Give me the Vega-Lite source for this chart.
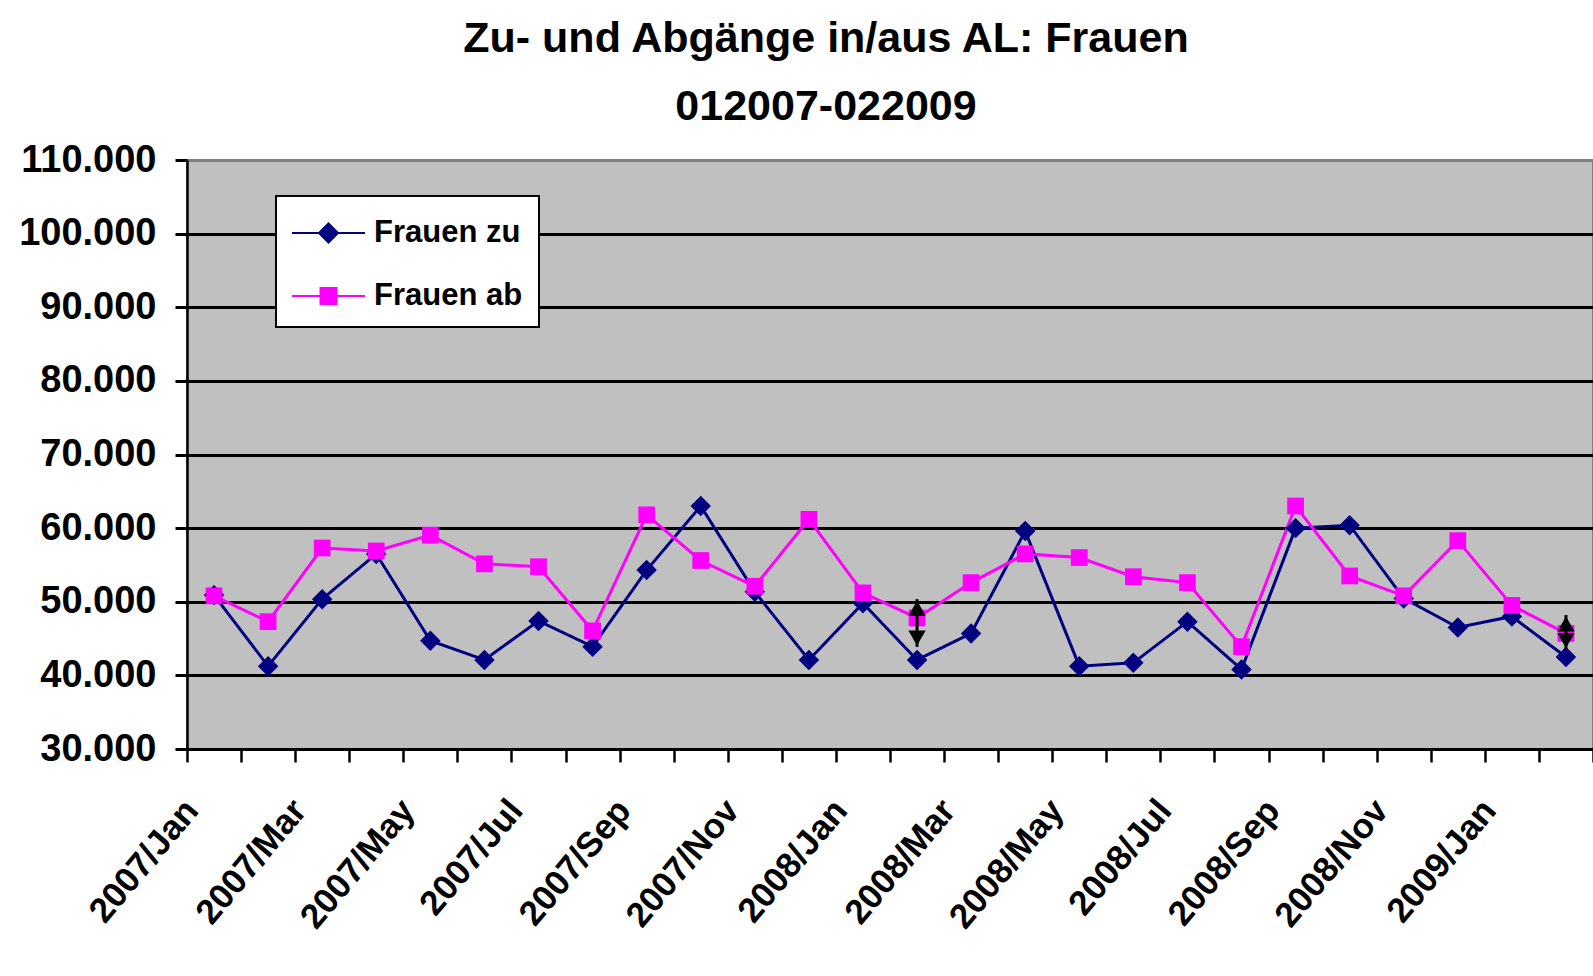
{
  "$schema": "https://vega.github.io/schema/vega-lite/v6.json",
  "autosize": "none",
  "width": 1406,
  "height": 589,
  "padding": {"left": 187, "top": 160, "right": 0, "bottom": 227},
  "background": "white",
  "title": {
    "text": ["Zu- und Abgänge in/aus AL: Frauen", "012007-022009"],
    "font": "Liberation Sans, Arial",
    "fontSize": 43,
    "fontWeight": "bold",
    "color": "black",
    "lineHeight": 68,
    "anchor": "middle",
    "dx": -64,
    "offset": 12
  },
  "config": {
    "view": {"fill": "#C0C0C0", "stroke": "#808080", "strokeWidth": 2},
    "font": "Liberation Sans, Arial"
  },
  "datasets": {
    "flows": [
      {"month": "2007/Jan", "series": "Frauen zu", "value": 50900},
      {"month": "2007/Feb", "series": "Frauen zu", "value": 41250},
      {"month": "2007/Mar", "series": "Frauen zu", "value": 50350},
      {"month": "2007/Apr", "series": "Frauen zu", "value": 56500},
      {"month": "2007/May", "series": "Frauen zu", "value": 44700},
      {"month": "2007/Jun", "series": "Frauen zu", "value": 42100},
      {"month": "2007/Jul", "series": "Frauen zu", "value": 47400},
      {"month": "2007/Aug", "series": "Frauen zu", "value": 43900},
      {"month": "2007/Sep", "series": "Frauen zu", "value": 54300},
      {"month": "2007/Oct", "series": "Frauen zu", "value": 63000},
      {"month": "2007/Nov", "series": "Frauen zu", "value": 51350},
      {"month": "2007/Dec", "series": "Frauen zu", "value": 42100},
      {"month": "2008/Jan", "series": "Frauen zu", "value": 49800},
      {"month": "2008/Feb", "series": "Frauen zu", "value": 42100},
      {"month": "2008/Mar", "series": "Frauen zu", "value": 45700},
      {"month": "2008/Apr", "series": "Frauen zu", "value": 59600},
      {"month": "2008/May", "series": "Frauen zu", "value": 41250},
      {"month": "2008/Jun", "series": "Frauen zu", "value": 41700},
      {"month": "2008/Jul", "series": "Frauen zu", "value": 47300},
      {"month": "2008/Aug", "series": "Frauen zu", "value": 40800},
      {"month": "2008/Sep", "series": "Frauen zu", "value": 60000},
      {"month": "2008/Oct", "series": "Frauen zu", "value": 60400},
      {"month": "2008/Nov", "series": "Frauen zu", "value": 50450},
      {"month": "2008/Dec", "series": "Frauen zu", "value": 46500},
      {"month": "2009/Jan", "series": "Frauen zu", "value": 48000},
      {"month": "2009/Feb", "series": "Frauen zu", "value": 42500},
      {"month": "2007/Jan", "series": "Frauen ab", "value": 50800},
      {"month": "2007/Feb", "series": "Frauen ab", "value": 47300},
      {"month": "2007/Mar", "series": "Frauen ab", "value": 57300},
      {"month": "2007/Apr", "series": "Frauen ab", "value": 56900},
      {"month": "2007/May", "series": "Frauen ab", "value": 59050},
      {"month": "2007/Jun", "series": "Frauen ab", "value": 55150},
      {"month": "2007/Jul", "series": "Frauen ab", "value": 54750},
      {"month": "2007/Aug", "series": "Frauen ab", "value": 46050},
      {"month": "2007/Sep", "series": "Frauen ab", "value": 61800},
      {"month": "2007/Oct", "series": "Frauen ab", "value": 55600},
      {"month": "2007/Nov", "series": "Frauen ab", "value": 52100},
      {"month": "2007/Dec", "series": "Frauen ab", "value": 61200},
      {"month": "2008/Jan", "series": "Frauen ab", "value": 51200},
      {"month": "2008/Feb", "series": "Frauen ab", "value": 47800},
      {"month": "2008/Mar", "series": "Frauen ab", "value": 52600},
      {"month": "2008/Apr", "series": "Frauen ab", "value": 56500},
      {"month": "2008/May", "series": "Frauen ab", "value": 56000},
      {"month": "2008/Jun", "series": "Frauen ab", "value": 53400},
      {"month": "2008/Jul", "series": "Frauen ab", "value": 52600},
      {"month": "2008/Aug", "series": "Frauen ab", "value": 43900},
      {"month": "2008/Sep", "series": "Frauen ab", "value": 63000},
      {"month": "2008/Oct", "series": "Frauen ab", "value": 53500},
      {"month": "2008/Nov", "series": "Frauen ab", "value": 50800},
      {"month": "2008/Dec", "series": "Frauen ab", "value": 58300},
      {"month": "2009/Jan", "series": "Frauen ab", "value": 49500},
      {"month": "2009/Feb", "series": "Frauen ab", "value": 45700}
    ],
    "arrows": [
      {"month": "2008/Feb", "top": 50350, "bottom": 43870},
      {"month": "2009/Feb", "top": 48200, "bottom": 43500}
    ]
  },
  "layer": [
    {
      "data": {"name": "flows"},
      "mark": {"type": "line", "strokeWidth": 3},
      "encoding": {
        "x": {
          "field": "month", "type": "ordinal", "bandPosition": 0.5, "title": null,
          "scale": {
            "type": "band", "paddingInner": 0, "paddingOuter": 0,
            "domain": ["2007/Jan","2007/Feb","2007/Mar","2007/Apr","2007/May","2007/Jun","2007/Jul","2007/Aug","2007/Sep","2007/Oct","2007/Nov","2007/Dec","2008/Jan","2008/Feb","2008/Mar","2008/Apr","2008/May","2008/Jun","2008/Jul","2008/Aug","2008/Sep","2008/Oct","2008/Nov","2008/Dec","2009/Jan","2009/Feb"]
          },
          "axis": {
            "tickBand": "extent",
            "domainColor": "black", "domainWidth": 3,
            "tickColor": "black", "tickWidth": 2.5, "tickSize": 13,
            "labelAngle": -50, "labelAlign": "right", "labelBaseline": "middle",
            "labelFontSize": 35, "labelFontWeight": "bold", "labelColor": "black",
            "labelPadding": 42, "labelOffset": -23, "labelOverlap": false, "labelLimit": 0,
            "labelExpr": "test(/Jan|Mar|May|Jul|Sep|Nov/, datum.label) ? datum.label : ''",
            "grid": false
          }
        },
        "y": {
          "field": "value", "type": "quantitative", "title": null,
          "scale": {"domain": [30000, 110000], "nice": false, "zero": false},
          "axis": {
            "values": [30000, 40000, 50000, 60000, 70000, 80000, 90000, 100000, 110000],
            "labelExpr": "replace(format(datum.value, ','), ',', '.')",
            "domainColor": "black", "domainWidth": 2.5,
            "tickColor": "black", "tickWidth": 3, "tickSize": 12,
            "labelFontSize": 38, "labelFontWeight": "bold", "labelColor": "black",
            "labelPadding": 19,
            "grid": true,
            "gridColor": {"condition": {"test": "datum.value === 110000", "value": "#808080"}, "value": "black"},
            "gridWidth": 3
          }
        },
        "color": {
          "field": "series", "type": "nominal",
          "scale": {"domain": ["Frauen zu", "Frauen ab"], "range": ["#000080", "#FF00FF"]},
          "legend": {
            "orient": "none", "legendX": 89, "legendY": 36, "title": null,
            "fillColor": "white", "strokeColor": "black",
            "padding": 16,
            "symbolSize": 1600,
            "symbolStrokeWidth": 2,
            "labelFontSize": 31, "labelFontWeight": "bold", "labelColor": "black",
            "labelOffset": 40, "labelLimit": 0,
            "rowPadding": 27,
            "encode": {
              "legend": {"update": {"strokeWidth": {"value": 2}}},
              "symbols": {"update": {
                "shape": {"signal": "datum.value === 'Frauen zu' ? 'M-1.05,0H2.6M0.775,-0.475L1.25,0L0.775,0.475L0.3,0Z' : 'M-1.05,0H2.6M0.375,-0.4H1.175V0.4H0.375Z'"},
                "size": {"value": 1600},
                "fill": {"signal": "scale('color', datum.value)"},
                "stroke": {"signal": "scale('color', datum.value)"},
                "opacity": {"value": 1},
                "strokeWidth": {"value": 2}
              }}
            }
          }
        }
      }
    },
    {
      "data": {"name": "flows"},
      "transform": [{"filter": "datum.series === 'Frauen zu'"}],
      "mark": {"type": "point", "filled": true, "opacity": 1, "shape": "diamond", "size": 420},
      "encoding": {
        "x": {"field": "month", "type": "ordinal", "bandPosition": 0.5},
        "y": {"field": "value", "type": "quantitative"},
        "color": {"field": "series", "type": "nominal"}
      }
    },
    {
      "data": {"name": "flows"},
      "transform": [{"filter": "datum.series === 'Frauen ab'"}],
      "mark": {"type": "point", "filled": true, "opacity": 1, "shape": "square", "size": 280},
      "encoding": {
        "x": {"field": "month", "type": "ordinal", "bandPosition": 0.5},
        "y": {"field": "value", "type": "quantitative"},
        "color": {"field": "series", "type": "nominal"}
      }
    },
    {
      "data": {"name": "arrows"},
      "mark": {"type": "rule", "color": "black", "strokeWidth": 3},
      "encoding": {
        "x": {"field": "month", "type": "ordinal", "bandPosition": 0.5},
        "y": {"field": "top", "type": "quantitative"},
        "y2": {"field": "bottom"}
      }
    },
    {
      "data": {"name": "arrows"},
      "mark": {"type": "point", "shape": "triangle-up", "filled": true, "color": "black", "opacity": 1, "size": 300, "yOffset": 9},
      "encoding": {
        "x": {"field": "month", "type": "ordinal", "bandPosition": 0.5},
        "y": {"field": "top", "type": "quantitative"}
      }
    },
    {
      "data": {"name": "arrows"},
      "mark": {"type": "point", "shape": "triangle-down", "filled": true, "color": "black", "opacity": 1, "size": 300, "yOffset": -9},
      "encoding": {
        "x": {"field": "month", "type": "ordinal", "bandPosition": 0.5},
        "y": {"field": "bottom", "type": "quantitative"}
      }
    }
  ]
}
